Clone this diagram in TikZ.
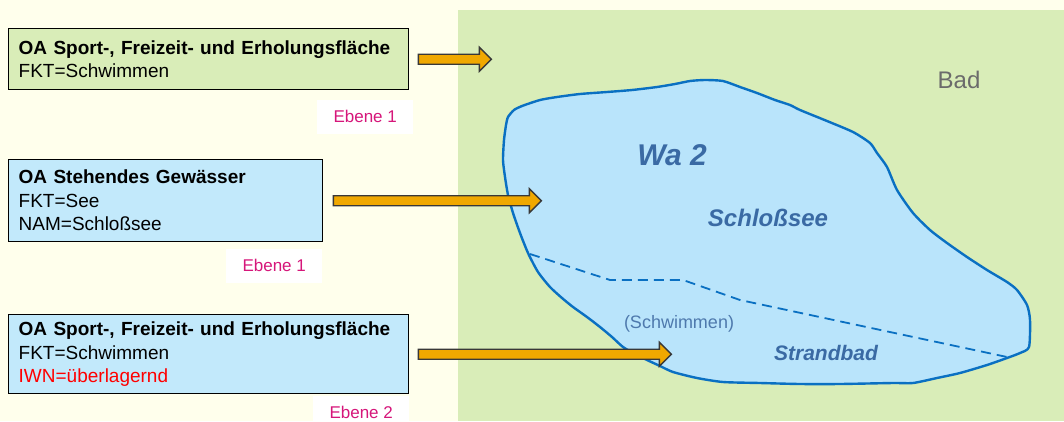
\documentclass[tikz,border=0pt]{standalone}
\usepackage{fontspec}
\setmainfont{Liberation Sans}
\usetikzlibrary{calc,positioning}

\definecolor{creme}{HTML}{FFFFEC}
\definecolor{wiese}{HTML}{D9EDB8}
\definecolor{wasser}{HTML}{B9E4FB}
\definecolor{kasten}{HTML}{C2E9FB}
\definecolor{ufer}{HTML}{0A70C2}
\definecolor{seetext}{HTML}{3A6AA4}
\definecolor{ebenerot}{HTML}{D6167A}
\definecolor{pfeil}{HTML}{F0A800}

\newcommand\blockarrow[2]{%
  \draw[pfeilkoerper] ($(#1)+(0,-5)$) -- ($(#2)+(-12,-5)$) -- ($(#2)+(-12,-12)$)
    -- (#2) -- ($(#2)+(-12,12)$) -- ($(#2)+(-12,5)$) -- ($(#1)+(0,5)$) -- cycle;}

\begin{document}
\begin{tikzpicture}[x=1pt,y=-1pt,
  objbox/.style={anchor=north west, draw=black, line width=1.4pt, inner xsep=10pt,
    inner ysep=0pt, align=left, font=\fontsize{19}{23.5}\selectfont},
  ebene/.style={fill=white, text=ebenerot, inner sep=0pt, minimum width=96pt,
    minimum height=34pt, font=\fontsize{17}{20}\selectfont},
  pfeilkoerper/.style={fill=pfeil, draw=black!78, line width=1.4pt, line join=miter},
  seename/.style={text=seetext, font=\bfseries\itshape}]
  \useasboundingbox[fill=creme] (0,0) rectangle (1064,421);
  \fill[wiese] (458,10) rectangle (1064,421);

  % Schlosssee
  \draw[ufer, fill=wasser, line width=2.4pt, line join=round]
    plot[smooth cycle, tension=0.4] coordinates {
    (508,117) (514,110) (522,106) (540,100) (557,97) (580,94) (607,92) (632,90)
    (657,87) (675,84) (690,81) (705,80) (723,81) (740,87) (757,93) (775,100)
    (790,105) (800,110) (827,121) (853,132) (870,143) (877,153) (887,167)
    (897,190) (913,213) (930,230) (947,243) (967,257) (987,270) (1007,282)
    (1017,290) (1027,305) (1030,320) (1029,347) (1020,353) (1007,358) (987,365)
    (960,373) (937,378) (913,383) (893,383) (840,384) (800,384) (760,383)
    (723,382) (697,378) (673,372) (660,366) (647,360) (635,354) (623,347)
    (612,337) (600,327) (587,317) (573,307) (562,298) (550,287) (538,272)
    (528,253) (520,233) (513,213) (508,195) (505,177) (503,160) (504,140)
    (506,125)};
  \draw[ufer, line width=1.8pt, dash pattern=on 10pt off 6pt]
    (530,254) -- (610,280) -- (683,280) -- (740,300) -- (1007,357);

  \node[seename, font=\fontsize{30}{34}\selectfont\bfseries\itshape] (wa) at (672,155) {Wa 2};
  \node[seename, font=\fontsize{24}{28}\selectfont\bfseries\itshape] (see) at (768,218) {Schloßsee};
  \node[seename, font=\fontsize{21}{25}\selectfont\bfseries\itshape] (strand) at (826,353) {Strandbad};
  \node[text=seetext!90!white, font=\fontsize{18}{21}\selectfont] (schw) at (679,324) {(Schwimmen)};
  \node[text=black!58, font=\fontsize{24}{28}\selectfont] (bad) at (959,80) {Bad};

  % Objektarten
  \node[objbox, fill=wiese, text width=380pt, minimum height=61pt] (oa1) at (8,28)
    {\textbf{OA Sport-, Freizeit- und Erholungsfläche}\\FKT=Schwimmen};
  \node[objbox, fill=kasten, text width=294pt, minimum height=82pt] (oa2) at (8,159)
    {\textbf{OA Stehendes Gewässer}\\FKT=See\\NAM=Schloßsee};
  \node[objbox, fill=kasten, text width=380pt, minimum height=79pt] (oa3) at (8,314)
    {\textbf{OA Sport-, Freizeit- und Erholungsfläche}\\FKT=Schwimmen\\\textcolor{red}{IWN=überlagernd}};

  \node[ebene, anchor=north east] (e1) at ([xshift=4pt,yshift=-9pt]oa1.south east) {Ebene 1};
  \node[ebene, anchor=north east] (e2) at ([xshift=-1pt,yshift=-6pt]oa2.south east) {Ebene 1};
  \node[ebene, anchor=north east, minimum height=27pt, text height=18pt, text depth=0pt]
    (e3) at ([yshift=-1pt]oa3.south east) {Ebene 2};

  \coordinate (p1) at ([xshift=9pt]oa1.east);
  \coordinate (z1) at ($(p1)+(73,0)$);
  \coordinate (p2) at ([xshift=10pt]oa2.east);
  \coordinate (z2) at ($(p2)+(208,0)$);
  \coordinate (p3) at ([xshift=9pt]oa3.east);
  \coordinate (z3) at ($(p3)+(253,0)$);
  \blockarrow{p1}{z1}
  \blockarrow{p2}{z2}
  \blockarrow{p3}{z3}
\end{tikzpicture}
\end{document}
